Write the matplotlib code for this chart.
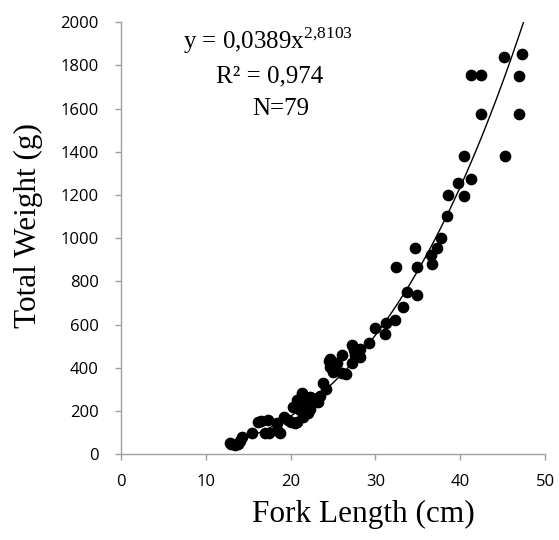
import numpy as np
import matplotlib
matplotlib.use("Agg")
import matplotlib.pyplot as plt

# fork length (cm) and total weight (g)
fork_length = [45.2, 47.3, 46.9, 41.3, 42.5, 42.4, 46.9, 45.3, 40.4, 41.3,
               39.7, 38.6, 40.4, 38.4, 37.7, 37.3, 36.6, 36.7, 34.7, 32.4,
               34.9, 33.7, 34.9, 33.3, 32.3, 31.3, 29.9, 31.1, 29.3, 27.2,
               28.2, 27.6, 26.0, 24.7, 28.2, 27.2, 24.6, 25.0, 26.1, 23.8,
               21.3, 22.3, 23.2, 20.7, 21.4, 12.8, 13.4, 14.3, 15.5, 16.1,
               17.0, 17.3, 18.4, 18.4, 19.7, 20.5, 20.3, 21.1, 21.3, 22.0,
               22.5, 23.2, 13.0, 13.8, 14.0, 16.5, 17.5, 18.8, 19.2, 20.0,
               20.8, 21.5, 22.3, 23.5, 24.2, 24.5, 25.5, 26.5, 27.5]
total_weight = [1837, 1851, 1749, 1754, 1754, 1577, 1577, 1382, 1378, 1276,
                1257, 1202, 1197, 1104, 1002, 956, 923, 882, 956, 868,
                868, 752, 738, 682, 622, 608, 585, 557, 515, 506,
                487, 459, 459, 441, 450, 422, 404, 380, 376, 329,
                283, 264, 260, 251, 237, 51, 42, 79, 97, 148,
                97, 158, 144, 111, 158, 144, 218, 204, 274, 190,
                260, 241, 45, 48, 60, 155, 100, 100, 170, 150,
                150, 170, 210, 270, 300, 430, 420, 370, 480]

# power fit y = a * x^b
fit_a = 0.0389
fit_b = 2.8103

plt.rcParams['mathtext.fontset'] = 'custom'
plt.rcParams['mathtext.rm'] = 'Liberation Serif'

fig = plt.figure(figsize=(5.59, 5.40), dpi=100)
ax = fig.add_axes([0.2165, 0.159, 0.7585, 0.8])

ax.scatter(fork_length, total_weight, s=55, color='black', zorder=3)

x_end = (2000 / fit_a) ** (1 / fit_b)
xs = np.linspace(12.5, x_end, 200)
ax.plot(xs, fit_a * xs ** fit_b, color='black', lw=1.0)

ax.set_xlim(0, 50)
ax.set_ylim(0, 2000)
ax.set_xticks(range(0, 51, 10))
ax.set_yticks(range(0, 2001, 200))

for side in ['top', 'right']:
    ax.spines[side].set_visible(False)
for side in ['left', 'bottom']:
    ax.spines[side].set_color('#a0a0a0')
    ax.spines[side].set_linewidth(1.0)
ax.tick_params(axis='both', colors='#a0a0a0', length=4, width=1.0,
               labelcolor='black', labelsize=12)
ax.tick_params(axis='y', pad=12)
ax.tick_params(axis='x', pad=10)
for lab in ax.get_xticklabels() + ax.get_yticklabels():
    lab.set_family('Open Sans')

ax.set_xlabel('Fork Length (cm)', family='Liberation Serif', fontsize=22.5, labelpad=9)
ax.xaxis.set_label_coords(0.572, -0.105)
ax.set_ylabel('Total Weight (g)', family='Liberation Serif', fontsize=22.5, labelpad=7)
ax.yaxis.set_label_coords(-0.185, 0.53)

ax.text(17.3, 1915, r'y = 0,0389x$^{2{,}8103}$', family='Liberation Serif',
        fontsize=18, ha='center', va='center')
ax.text(17.5, 1750, 'R² = 0,974', family='Liberation Serif', fontsize=18,
        ha='center', va='center')
ax.text(18.8, 1600, 'N=79', family='Liberation Serif', fontsize=18,
        ha='center', va='center')

fig.savefig('out.png', dpi=100)
